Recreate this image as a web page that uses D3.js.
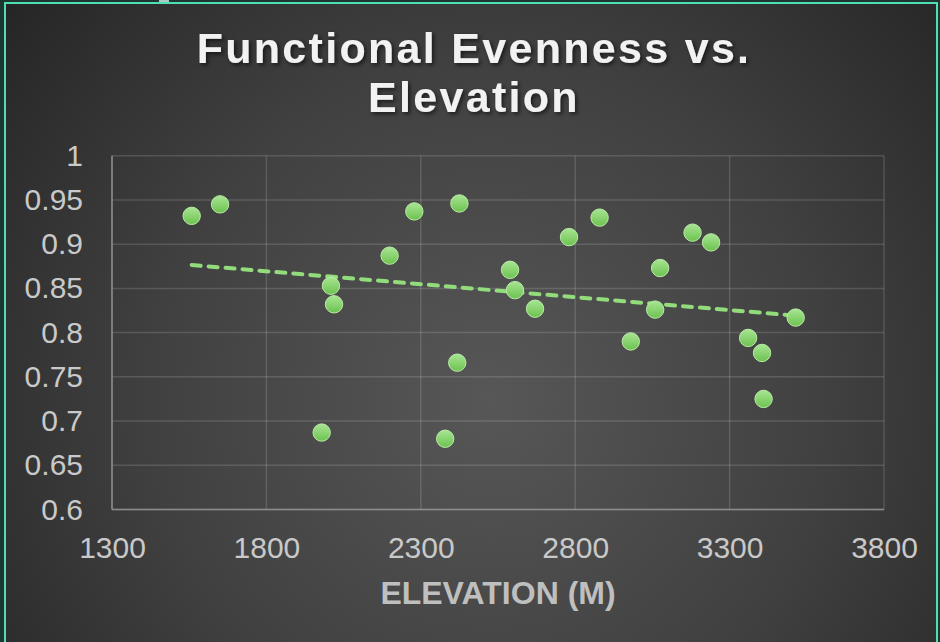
<!DOCTYPE html>
<html>
<head>
<meta charset="utf-8">
<script src="https://cdn.jsdelivr.net/npm/d3@7/dist/d3.min.js"></script>
<style>
  html, body { margin: 0; padding: 0; background: #1d3631; }
  svg { display: block; }
</style>
</head>
<body>
<svg id="chart" width="940" height="642"></svg>
<script>
// ---- data ----
const titleLines = ["Functional Evenness vs.", "Elevation"];
const xAxisTitle = "ELEVATION (M)";
const elevation = [1558, 1650, 1979, 2009, 2019, 2199, 2279, 2379, 2418, 2425, 2589, 2605,
                   2670, 2780, 2879, 2980, 3059, 3075, 3180, 3240, 3360, 3405, 3410, 3514];
const evenness  = [0.932, 0.945, 0.687, 0.853, 0.832, 0.887, 0.937, 0.680, 0.766, 0.946, 0.871, 0.848,
                   0.827, 0.908, 0.930, 0.790, 0.826, 0.873, 0.913, 0.902, 0.794, 0.777, 0.725, 0.817];
const xTicks = [1300, 1800, 2300, 2800, 3300, 3800];
const yTicks = [0.6, 0.65, 0.7, 0.75, 0.8, 0.85, 0.9, 0.95, 1];

const W = 940, H = 642;
const svg = d3.select("#chart");
const defs = svg.append("defs");

// background
const bg = defs.append("radialGradient").attr("id", "bg")
  .attr("gradientUnits", "userSpaceOnUse")
  .attr("cx", 490).attr("cy", 400).attr("r", 620);
bg.append("stop").attr("offset", "0").attr("stop-color", "#575757");
bg.append("stop").attr("offset", "0.55").attr("stop-color", "#404040");
bg.append("stop").attr("offset", "1").attr("stop-color", "#262626");

const dotG = defs.append("linearGradient").attr("id", "dot")
  .attr("x1", 0).attr("y1", 0).attr("x2", 0).attr("y2", 1);
dotG.append("stop").attr("offset", "0").attr("stop-color", "#a8e594");
dotG.append("stop").attr("offset", "1").attr("stop-color", "#6cc24f");

const sh = defs.append("filter").attr("id", "tshadow")
  .attr("x", "-10%").attr("y", "-30%").attr("width", "120%").attr("height", "160%");
sh.append("feDropShadow").attr("dx", 2).attr("dy", 2).attr("stdDeviation", 2)
  .attr("flood-color", "#000").attr("flood-opacity", 0.6);

svg.append("rect").attr("x", 5).attr("y", 3).attr("width", 933).attr("height", 645)
  .attr("fill", "url(#bg)");
svg.append("rect").attr("x", 5).attr("y", 3).attr("width", 932).attr("height", 645)
  .attr("fill", "none").attr("stroke", "#4fdfb0").attr("stroke-width", 2);
svg.append("rect").attr("x", 159).attr("y", 0).attr("width", 10).attr("height", 2)
  .attr("fill", "#a9c9c2");

// ---- scales ----
const plot = { left: 112, right: 884, top: 155.7, bottom: 509.5 };
const x = d3.scaleLinear().domain([1300, 3800]).range([plot.left, plot.right]);
const y = d3.scaleLinear().domain([0.6, 1]).range([plot.bottom, plot.top]);

// gridlines
const grid = svg.append("g");
grid.selectAll("line.h").data(yTicks).join("line")
  .attr("x1", plot.left).attr("x2", plot.right)
  .attr("y1", d => y(d)).attr("y2", d => y(d))
  .attr("stroke", "#ffffff").attr("stroke-opacity", 0.14).attr("stroke-width", 1.5);
grid.selectAll("line.v").data(xTicks).join("line")
  .attr("y1", plot.top).attr("y2", plot.bottom)
  .attr("x1", d => x(d)).attr("x2", d => x(d))
  .attr("stroke", "#ffffff").attr("stroke-opacity", 0.14).attr("stroke-width", 1.5);

// axes lines
svg.append("line").attr("x1", plot.left).attr("x2", plot.left)
  .attr("y1", plot.top).attr("y2", plot.bottom)
  .attr("stroke", "#8c8c8c").attr("stroke-width", 1.5);
svg.append("line").attr("x1", plot.left).attr("x2", plot.right)
  .attr("y1", plot.bottom).attr("y2", plot.bottom)
  .attr("stroke", "#8c8c8c").attr("stroke-width", 1.5);

// axis tick labels via d3 axes
const font = "'Liberation Sans', Arial, sans-serif";
const yAxis = svg.append("g").attr("transform", `translate(${plot.left},0)`)
  .call(d3.axisLeft(y).tickValues(yTicks).tickFormat(d => String(+d.toFixed(2))).tickSize(0).tickPadding(29));
const xAxis = svg.append("g").attr("transform", `translate(0,${plot.bottom})`)
  .call(d3.axisBottom(x).tickValues(xTicks).tickFormat(d3.format("d")).tickSize(0).tickPadding(27));
[yAxis, xAxis].forEach(a => {
  a.select(".domain").remove();
  a.selectAll("text").attr("fill", "#c9c9c9").style("font-family", font).style("font-size", "30px");
});

// trendline (linear least squares)
const n = elevation.length;
const mx = d3.mean(elevation), my = d3.mean(evenness);
let sxy = 0, sxx = 0;
for (let i = 0; i < n; i++) { sxy += (elevation[i]-mx)*(evenness[i]-my); sxx += (elevation[i]-mx)**2; }
const slope = sxy / sxx, icpt = my - slope * mx;
const xe = d3.extent(elevation);
svg.append("line")
  .attr("x1", x(xe[0])).attr("y1", y(icpt + slope*xe[0]))
  .attr("x2", x(xe[1])).attr("y2", y(icpt + slope*xe[1]))
  .attr("stroke", "#92dc7c").attr("stroke-width", 4)
  .attr("stroke-dasharray", "9,8").attr("stroke-linecap", "round");

// points
svg.append("g").selectAll("circle").data(elevation).join("circle")
  .attr("cx", d => x(d)).attr("cy", (d, i) => y(evenness[i]))
  .attr("r", 8.7)
  .attr("fill", "url(#dot)")
  .attr("stroke", "#b9eba6").attr("stroke-width", 1);

// title
const title = svg.append("text").attr("x", 474).attr("text-anchor", "middle")
  .attr("fill", "#f2f2f2").attr("filter", "url(#tshadow)")
  .style("font-family", font).style("font-weight", "bold")
  .style("font-size", "43px").style("letter-spacing", "2.3px");
titleLines.forEach((t, i) => title.append("tspan").attr("x", 474).attr("y", 63 + i*49).text(t));

// x axis title
svg.append("text").attr("x", (plot.left+plot.right)/2).attr("y", 604)
  .attr("text-anchor", "middle").attr("fill", "#bfbfbf")
  .style("font-family", font).style("font-weight", "bold").style("font-size", "32px")
  .text(xAxisTitle);
</script>
</body>
</html>
